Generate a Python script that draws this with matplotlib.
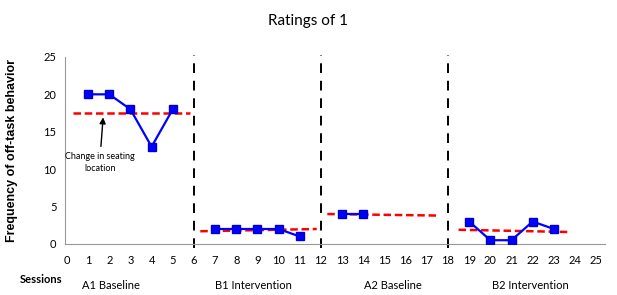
import matplotlib.pyplot as plt

# Sessions and ratings for each phase
a1_sessions = [1, 2, 3, 4, 5]
a1_values = [20, 20, 18, 13, 18]
b1_sessions = [7, 8, 9, 10, 11]
b1_values = [2, 2, 2, 2, 1]
a2_sessions = [13, 14]
a2_values = [4, 4]
b2_sessions = [19, 20, 21, 22, 23]
b2_values = [3, 0.5, 0.5, 3, 2]

# Trend lines per phase: (x start, x end, y start, y end)
trend_x = [[0.3, 5.8], [6.3, 11.8], [12.3, 17.5], [18.5, 23.7]]
trend_y = [[17.5, 17.5], [1.7, 2.0], [4.0, 3.8], [1.9, 1.6]]

phase_changes = [6, 12, 18]
phase_labels = ["A1 Baseline", "B1 Intervention", "A2 Baseline", "B2 Intervention"]
phase_label_x = [2.1, 8.8, 15.4, 21.9]

plt.rcParams['font.family'] = ['Lato', 'DejaVu Sans']

fig = plt.figure(figsize=(6.17, 2.95), dpi=100)
ax = fig.add_axes([0.105, 0.173, 0.875, 0.634])

for xs, ys in zip(trend_x, trend_y):
    ax.plot(xs, ys, color='red', linestyle=(0, (3, 1.5)), linewidth=1.8, zorder=2)

for xs, ys in [(a1_sessions, a1_values), (b1_sessions, b1_values),
               (a2_sessions, a2_values), (b2_sessions, b2_values)]:
    ax.plot(xs, ys, color='#0000ff', linewidth=1.6, marker='s',
            markersize=6, markeredgecolor='#0000cc', zorder=3)

for x in phase_changes:
    ax.plot([x, x], [-0.5, 25.3], color='black', linestyle=(0, (5, 4)),
            linewidth=1.4, clip_on=False, zorder=1)

ax.annotate("Change in seating\nlocation", xy=(1.72, 17.3), xytext=(1.55, 12.3),
            ha='center', va='top', fontsize=6.5, linespacing=1.5,
            arrowprops=dict(arrowstyle='-|>', color='black', lw=1.0,
                            mutation_scale=9))

ax.set_xlim(-0.1, 25.4)
ax.set_ylim(0, 25)
ax.set_xticks(range(0, 26))
ax.set_yticks(range(0, 26, 5))
ax.tick_params(length=0, labelsize=8, pad=8)
ax.tick_params(axis='y', pad=6)
for side in ['top', 'right']:
    ax.spines[side].set_visible(False)
for side in ['left', 'bottom']:
    ax.spines[side].set_color('#999999')

fig.text(0.5, 0.93, "Ratings of 1", fontsize=11, ha='center', va='center')
ax.set_ylabel("Frequency of off-task behavior", fontsize=9, fontweight='bold',
              family=['Liberation Sans'], labelpad=18)

fig.text(0.032, 0.035, "Sessions", fontsize=8, fontweight='bold', va='bottom')
for lx, lab in zip(phase_label_x, phase_labels):
    ax.text(lx, -5.6, lab, fontsize=8, ha='center', va='center')

fig.savefig("out.png", dpi=100)
